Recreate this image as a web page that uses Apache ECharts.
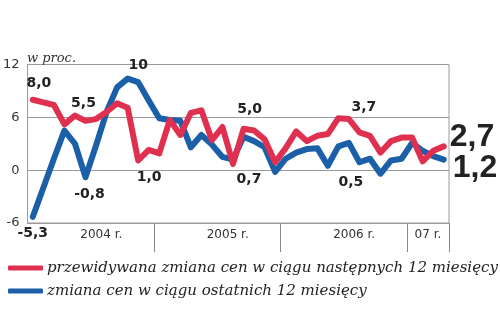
<!DOCTYPE html>
<html><head><meta charset="utf-8">
<script src="https://cdn.jsdelivr.net/npm/echarts@6/dist/echarts.min.js"></script>
<style>html,body{margin:0;padding:0;background:#fff}#c{width:500px;height:323px}</style>
</head><body><div id="c"></div>
<script>
// ---- data ----
const months = [
 '01.2004','02.2004','03.2004','04.2004','05.2004','06.2004','07.2004','08.2004','09.2004','10.2004','11.2004','12.2004',
 '01.2005','02.2005','03.2005','04.2005','05.2005','06.2005','07.2005','08.2005','09.2005','10.2005','11.2005','12.2005',
 '01.2006','02.2006','03.2006','04.2006','05.2006','06.2006','07.2006','08.2006','09.2006','10.2006','11.2006','12.2006',
 '01.2007','02.2007','03.2007','04.2007'];
const expectedName = 'przewidywana zmiana cen w ciągu następnych 12 miesięcy';
const actualName = 'zmiana cen w ciągu ostatnich 12 miesięcy';
const expected = [8.0,7.7,7.4,5.2,6.2,5.6,5.8,6.6,7.6,7.1, 1.1,2.3,1.9,5.7,4.0,6.5,6.8,3.4,4.9,0.7,
                  4.7,4.5,3.5,0.9,2.5,4.4,3.3,3.9,4.1,5.9, 5.8,4.3,3.9,2.0,3.3,3.7,3.7,1.0,2.2,2.7];
const actual = [-5.3,-2.0,1.3,4.5,3.0,-0.8,2.8,6.6,9.4,10.4, 10.0,7.9,5.9,5.7,5.6,2.6,4.0,2.9,1.5,1.2,
                3.8,3.3,2.6,-0.2,1.3,2.0,2.4,2.5,0.5,2.7, 3.1,0.9,1.3,-0.4,1.1,1.3,3.1,2.2,1.6,1.2];
const yTicks = [-6, 0, 6, 12];
const yearLabels = ['2004 r.', '2005 r.', '2006 r.', '07 r.'];
const yearLabelMonth = [7, 19, 31, 38];
const unitLabel = 'w proc.';
// value annotations: [series, month index, text]
const notes = [
  ['e', 0, '8,0'], ['a', 0, '-5,3'], ['e', 5, '5,5'], ['a', 5, '-0,8'],
  ['a', 10, '10'], ['e', 10, '1,0'], ['e', 20, '5,0'], ['e', 19, '0,7'],
  ['e', 30, '3,7'], ['a', 28, '0,5'], ['e', 39, '2,7'], ['a', 39, '1,2']
];
// ---- layout/style ----
const noteOffsets = {
  '8,0':[6,-16], '-5,3':[0,17], '5,5':[-2,-17], '-0,8':[4,17], '10':[0,-17], '1,0':[11,17],
  '5,0':[6,-19], '0,7':[16,15], '3,7':[15,-12], '0,5':[23,17], '2,7':[6,-9], '1,2':[9,9]
};
const bigNotes = ['2,7', '1,2'];
const RED = '#e0304f', BLUE = '#1a5fa8', GRID = '#9a9a9a';

function marks(key, values) {
  return notes.filter(n => n[0] === key).map(n => {
    const big = bigNotes.includes(n[2]);
    return {
      name: n[2], coord: [n[1], values[n[1]]],
      label: {
        offset: noteOffsets[n[2]], align: big ? 'left' : 'center',
        fontSize: big ? 32 : 14, fontFamily: big ? 'Liberation Sans' : 'DejaVu Sans'
      }
    };
  });
}
const markBase = {
  symbol: 'circle', symbolSize: 1, itemStyle: { color: 'rgba(0,0,0,0)' }, silent: true,
  label: { show: true, position: 'inside', formatter: '{b}', color: '#222', fontWeight: 'bold', verticalAlign: 'middle' }
};

const chart = echarts.init(document.getElementById('c'), null, { renderer: 'canvas' });
chart.setOption({
  animation: false,
  title: { text: unitLabel, left: 27, top: 52, padding: 0, textStyle: { fontFamily: 'DejaVu Serif', fontStyle: 'italic', fontWeight: 'normal', fontSize: 13, color: '#333' } },
  grid: { left: 25, right: 51, top: 64.5, bottom: 100, show: true, borderColor: GRID, borderWidth: 1 },
  legend: {
    orient: 'vertical', left: 8, top: 259, padding: 0, itemWidth: 35, itemHeight: 5, itemGap: 5, icon: 'roundRect',
    data: [expectedName, actualName],
    textStyle: { fontFamily: 'DejaVu Serif', fontStyle: 'italic', fontSize: 15, color: '#222', lineHeight: 18, padding: [0, 0, 0, -1] }
  },
  xAxis: [{
    type: 'category', data: months, boundaryGap: true,
    axisLine: { show: true, onZero: false, lineStyle: { color: GRID } },
    axisTick: { show: true, length: 29, lineStyle: { color: '#888' },
      interval: (i) => i > 0 && months[i].startsWith('01.') },
    axisLabel: { show: false }, splitLine: { show: false }
  }, {
    type: 'value', position: 'bottom', min: 0, max: months.length, interval: 1,
    axisLine: { show: false, onZero: false }, axisTick: { show: false }, splitLine: { show: false },
    axisLabel: { margin: 6, fontFamily: 'DejaVu Sans', fontSize: 12, color: '#333',
      formatter: (v) => { const k = yearLabelMonth.indexOf(v); return k >= 0 ? yearLabels[k] : ''; } }
  }],
  yAxis: {
    type: 'value', min: yTicks[0], max: yTicks[yTicks.length - 1], interval: 6,
    axisLine: { show: false }, axisTick: { show: false },
    splitLine: { lineStyle: { color: GRID, width: 1 } },
    axisLabel: { margin: 8, fontFamily: 'DejaVu Sans', fontSize: 13, color: '#333' }
  },
  series: [{
    name: actualName, type: 'line', data: actual, showSymbol: false, symbol: 'none',
    lineStyle: { color: BLUE, width: 6, cap: 'round', join: 'round' }, itemStyle: { color: BLUE },
    markPoint: Object.assign({}, markBase, { data: marks('a', actual) })
  }, {
    name: expectedName, type: 'line', data: expected, showSymbol: false, symbol: 'none',
    lineStyle: { color: RED, width: 6, cap: 'round', join: 'round' }, itemStyle: { color: RED },
    markPoint: Object.assign({}, markBase, { data: marks('e', expected) })
  }]
});
</script></body></html>
